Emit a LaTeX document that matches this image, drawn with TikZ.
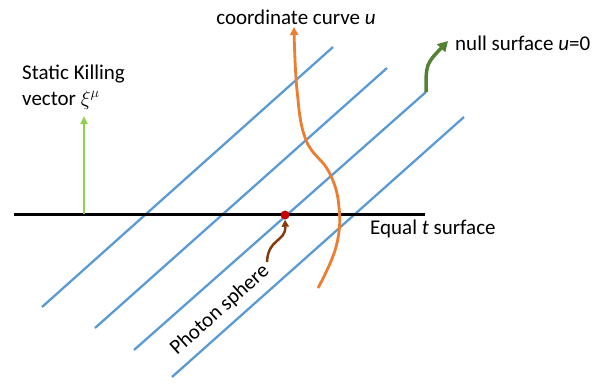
\documentclass[tikz,border=0pt]{standalone}
\usepackage{fontspec}
\setmainfont{Carlito}
\usepackage{tikz}
\usetikzlibrary{arrows.meta,positioning}
\definecolor{nullazul}{RGB}{91,155,213}
\definecolor{curvnar}{RGB}{237,125,49}
\definecolor{killverde}{RGB}{146,208,80}
\definecolor{nullverde}{RGB}{84,130,53}
\definecolor{fotonrojo}{RGB}{200,0,0}
\definecolor{fotonmarr}{RGB}{132,60,12}
\tikzset{
  nulo/.style={draw=nullazul, line width=2.3pt},
  tcorte/.style={draw=black, line width=3pt},
  curvu/.style={draw=curvnar, line width=2.8pt, -{Triangle[length=8pt, width=8pt]}},
  kill/.style={draw=killverde, line width=2.2pt, -{Triangle[length=8pt, width=7pt]}},
  flnull/.style={draw=nullverde, line width=3.5pt, -{Triangle[length=10pt, width=11pt]}},
  flfot/.style={draw=fotonmarr, line width=2.5pt, -{Triangle[length=7pt, width=7pt]}},
  et/.style={font=\fontsize{21}{26}\selectfont, inner sep=0pt, align=left},
}
\begin{document}
\begin{tikzpicture}[x=1pt, y=-1pt]
  \useasboundingbox (0,0) rectangle (603,384);
  % null surfaces
  \draw[nulo] (42,307) -- (333,47);
  \draw[nulo] (95,328) -- (387,68);
  \draw[nulo] (134,350) coordinate (n3a) -- (426,92) coordinate (n3b);
  \draw[nulo] (172,377) -- (464,117);
  % equal t surface
  \draw[tcorte] (14,214) coordinate (t0) -- (425,214) coordinate (t1);
  \node[et, anchor=west] (eqt) at (370,229) {Equal \textit{t} surface};
  % Killing vector
  \coordinate (k0) at (84,214);
  \coordinate (k1) at (84,116);
  \draw[kill] (k0) -- (k1);
  \node[et, anchor=west] (kv) at (22,87) {Static Killing\\ vector $\xi^{\mu}$};
  % coordinate curve u
  \draw[curvu] plot[smooth, tension=0.7] coordinates
    {(318,288) (336,247) (339,207) (329,172) (306,140) (297,90) (294,27)};
  \node[et] (cc) at (296,17) {coordinate curve \textit{u}};
  % null surface label
  \draw[flnull] (n3b) .. controls (426,64) .. (448,41) coordinate (ng);
  \node[et, anchor=west] (ns) at (455,43) {null surface \textit{u}=0};
  % photon sphere
  \node[fill=fotonrojo, circle, inner sep=0pt, minimum size=9pt] (dot) at (285,215) {};
  \node[et, rotate=41.8] (ps) at (220,310) {Photon sphere};
  \coordinate (pa) at (267,262);
  \draw[flfot] (pa) .. controls (268,238) and (286,242) .. (dot.south);
\end{tikzpicture}
\end{document}
